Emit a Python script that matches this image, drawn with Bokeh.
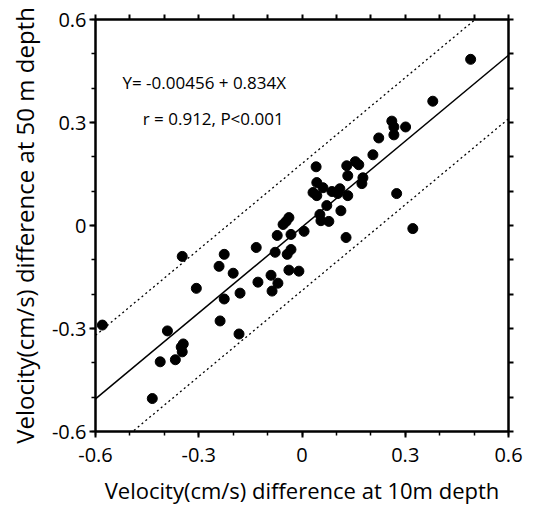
from bokeh.plotting import figure
from bokeh.models import Range1d, FixedTicker, LinearAxis, Label
from bokeh.embed import file_html
from bokeh.resources import INLINE

# ---- data ----
x_vals = [0.490, 0.380, 0.261, 0.267, 0.301, 0.267, 0.223, 0.206, 0.155, 0.165,
          0.130, 0.041, 0.133, 0.177, 0.174, 0.043, 0.061, 0.032, 0.043, 0.087,
          0.110, 0.104, 0.133, 0.275, 0.072, 0.113, 0.052, 0.055, 0.078, 0.322,
          -0.038, -0.046, -0.055, 0.006, -0.072, -0.032, 0.128, -0.133, -0.078, -0.032,
          -0.043, -0.348, -0.226, -0.241, -0.200, -0.038, -0.009, -0.090, -0.128, -0.070,
          -0.307, -0.087, -0.226, -0.180, -0.238, -0.183, -0.580, -0.391, -0.345, -0.351,
          -0.348, -0.368, -0.412, -0.435]
y_vals = [0.484, 0.362, 0.304, 0.287, 0.287, 0.264, 0.255, 0.206, 0.186, 0.177,
          0.174, 0.171, 0.145, 0.139, 0.122, 0.125, 0.110, 0.096, 0.087, 0.099,
          0.107, 0.093, 0.087, 0.093, 0.058, 0.043, 0.032, 0.014, 0.012, -0.009,
          0.023, 0.012, 0.003, -0.017, -0.029, -0.026, -0.035, -0.064, -0.078, -0.070,
          -0.084, -0.090, -0.084, -0.119, -0.139, -0.130, -0.133, -0.145, -0.165, -0.168,
          -0.183, -0.191, -0.214, -0.197, -0.278, -0.316, -0.290, -0.307, -0.345, -0.354,
          -0.368, -0.391, -0.397, -0.504]
intercept = -0.00456
slope = 0.834
band = 0.185
axis_min, axis_max = -0.6, 0.6
major_ticks = [-0.6, -0.3, 0.0, 0.3, 0.6]
minor_ticks = [-0.6, -0.5, -0.4, -0.3, -0.2, -0.1, 0.0, 0.1, 0.2, 0.3, 0.4, 0.5, 0.6]
tick_labels = {-0.6: "-0.6", -0.3: "-0.3", 0.0: "0", 0.3: "0.3", 0.6: "0.6"}
eq_text = "Y= -0.00456 + 0.834X"
stat_text = "r = 0.912, P<0.001"
x_title = "Velocity(cm/s) difference at 10m depth"
y_title = "Velocity(cm/s) difference at 50 m depth"

FONT = "Open Sans"

p = figure(width=537, height=507, output_backend="svg", toolbar_location=None,
           x_range=Range1d(axis_min, axis_max), y_range=Range1d(axis_min, axis_max),
           min_border_left=95, min_border_right=29, min_border_top=19, min_border_bottom=74,
           x_axis_label=x_title, y_axis_label=y_title)
p.grid.visible = False
p.outline_line_color = "black"
p.outline_line_width = 2
p.background_fill_color = "white"
p.border_fill_color = "white"

def style_axis(ax, label_size="22px", labels=True):
    ax.axis_line_width = 2
    ax.axis_line_color = "black"
    ax.major_tick_line_width = 2
    ax.minor_tick_line_width = 1.5
    ax.major_tick_in = 0
    ax.major_tick_out = 6
    ax.minor_tick_in = 0
    ax.minor_tick_out = 4
    if labels:
        ax.ticker = FixedTicker(ticks=major_ticks, minor_ticks=minor_ticks)
        ax.major_label_overrides = tick_labels
        ax.major_label_text_font = FONT
        ax.major_label_text_font_size = "20px"
        ax.major_label_text_color = "black"
        ax.major_label_standoff = 5
        ax.axis_label_text_font = FONT
        ax.axis_label_text_font_size = label_size
        ax.axis_label_text_font_style = "normal"
        ax.axis_label_text_color = "black"
        ax.axis_label_standoff = 14
    else:
        # ticks only, no labels
        ax.ticker = FixedTicker(ticks=[], minor_ticks=minor_ticks)
        ax.minor_tick_out = 5
        ax.minor_tick_line_width = 2

style_axis(p.xaxis[0], label_size="22px")
style_axis(p.yaxis[0], label_size="24px")
p.xaxis[0].major_label_standoff = 10
p.xaxis[0].axis_label_standoff = 10
p.yaxis[0].major_label_standoff = 3
p.yaxis[0].axis_label_standoff = 8
top_ax = LinearAxis()
right_ax = LinearAxis()
style_axis(top_ax, labels=False)
style_axis(right_ax, labels=False)
p.add_layout(top_ax, "above")
p.add_layout(right_ax, "right")

# regression and band lines
xs_line = [axis_min, axis_max]
ys_fit = [intercept + slope * v for v in xs_line]
ys_up = [y + band for y in ys_fit]
ys_lo = [y - band for y in ys_fit]
p.line(xs_line, ys_fit, line_color="black", line_width=1.5)
p.line(xs_line, ys_up, line_color="black", line_width=1.3, line_dash="2 3")
p.line(xs_line, ys_lo, line_color="black", line_width=1.3, line_dash="2 3")

p.scatter(x_vals, y_vals, size=10, fill_color="black", line_color="black")

p.add_layout(Label(x=-0.284, y=0.417, text=eq_text, text_align="center", text_baseline="middle",
                   text_font=FONT, text_font_size="17px", text_color="black"))
p.add_layout(Label(x=-0.258, y=0.313, text=stat_text, text_align="center", text_baseline="middle",
                   text_font=FONT, text_font_size="17px", text_color="black"))

open("out.html", "w").write(file_html(p, INLINE))
